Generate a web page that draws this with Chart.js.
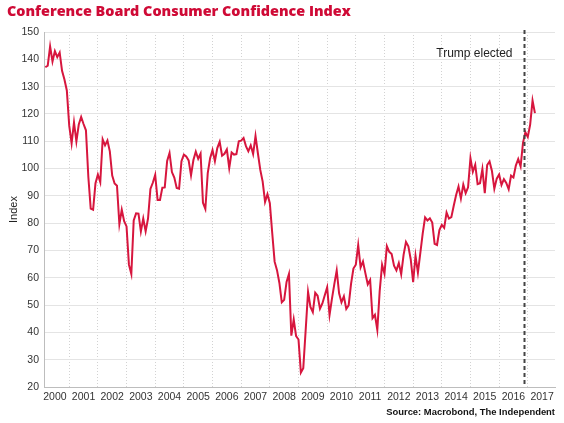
<!DOCTYPE html>
<html><head><meta charset="utf-8">
<script src="https://cdn.jsdelivr.net/npm/chart.js@4/dist/chart.umd.min.js"></script>
<style>html,body{margin:0;padding:0;background:#fff}#wrap{width:564px;height:423px;position:relative}</style>
</head><body><div id="wrap"><canvas id="c"></canvas></div>
<script>
const titleText = "Conference Board Consumer Confidence Index";
const sourceText = "Source: Macrobond, The Independent";
const yAxisTitle = "Index";
const eventLabel = "Trump elected";
const eventDate = 2016.855; // 8 Nov 2016
const yearLabels = [2000,2001,2002,2003,2004,2005,2006,2007,2008,2009,2010,2011,2012,2013,2014,2015,2016,2017];
const yTicks = [20,30,40,50,60,70,80,90,100,110,120,130,140,150];
const firstYear = 2000, firstMonth = 3;

const cci2000 = [137.1,137.7,144.7,139.2,143.0,140.8,142.5,135.8,132.6,128.6];
const cci2001 = [115.7,109.2,116.9,109.9,116.1,118.9,116.3,114.0,97.0,85.3,84.9,94.6];
const cci2002 = [97.8,95.0,110.7,108.5,110.3,106.3,97.4,94.5,93.7,79.6,84.9,80.7];
const cci2003 = [78.8,64.8,61.4,81.0,83.6,83.5,77.0,81.7,77.0,81.7,92.5,94.8];
const cci2004 = [97.7,88.5,88.5,93.0,93.1,102.8,105.7,98.7,96.7,92.9,92.6,102.7];
const cci2005 = [105.1,104.4,103.0,97.5,103.1,106.2,103.6,105.5,87.5,85.2,98.3,103.8];
const cci2006 = [106.8,102.7,107.5,109.8,104.7,105.4,107.0,100.2,105.9,105.1,105.3,110.0];
const cci2007 = [110.2,111.2,108.2,106.3,108.5,105.3,111.9,105.6,99.5,95.2,87.8,90.6];
const cci2008 = [87.3,76.4,65.9,62.8,58.1,51.0,51.9,58.5,61.4,38.8,44.7,38.6];
const cci2009 = [37.4,25.3,26.9,40.8,54.8,49.3,47.4,54.5,53.4,48.7,50.6,53.6];
const cci2010 = [56.5,46.4,52.3,57.7,62.7,54.3,51.0,53.2,48.6,49.9,57.8,63.4];
const cci2011 = [64.8,72.0,63.8,66.0,61.7,57.6,59.2,45.2,46.4,40.9,55.2,64.8];
const cci2012 = [61.5,71.6,69.5,68.7,64.4,62.7,65.4,61.3,68.4,73.1,71.5,66.7];
const cci2013 = [58.4,68.0,61.9,69.0,76.2,82.1,81.0,81.8,80.2,72.4,72.0,77.5];
const cci2014 = [79.4,78.3,83.9,81.7,82.2,86.4,90.3,93.4,89.0,94.1,91.0,93.1];
const cci2015 = [103.8,98.8,101.4,94.3,94.6,99.8,91.0,101.3,102.6,99.1,92.6,96.3];
const cci2016 = [97.8,94.0,96.1,94.7,92.4,97.4,96.7,101.1,103.5,100.8,109.4,113.3];
const cci2017 = [111.6,116.1,124.9,120.3];

const allValues = [].concat(cci2000,cci2001,cci2002,cci2003,cci2004,cci2005,cci2006,cci2007,cci2008,
  cci2009,cci2010,cci2011,cci2012,cci2013,cci2014,cci2015,cci2016,cci2017);
const points = allValues.map((v,i) => ({x: firstYear + (firstMonth - 1 + i) / 12, y: v}));

const overlay = {
  id: 'overlay',
  afterDatasetsDraw(chart) {
    const {ctx, chartArea, scales} = chart;
    const x = Math.round(scales.x.getPixelForValue(eventDate)) + 0.5;
    ctx.save();
    ctx.strokeStyle = '#444';
    ctx.lineWidth = 2;
    ctx.setLineDash([4,3]);
    ctx.beginPath();
    ctx.moveTo(x, chartArea.top - 2);
    ctx.lineTo(x, chartArea.bottom);
    ctx.stroke();
    ctx.setLineDash([]);
    ctx.fillStyle = '#222';
    ctx.font = '12px "Liberation Sans", Arial, sans-serif';
    ctx.textAlign = 'right';
    ctx.textBaseline = 'middle';
    ctx.fillText(eventLabel, x - 12, 54);
    ctx.restore();
  },
  afterDraw(chart) {
    const {ctx} = chart;
    ctx.save();
    let size = 15;
    ctx.font = '800 ' + size + 'px "Open Sans", sans-serif';
    const w = ctx.measureText(titleText).width;
    size = size * 344 / w;
    ctx.font = '800 ' + size.toFixed(2) + 'px "Open Sans", sans-serif';
    ctx.fillStyle = '#cf0a36';
    ctx.textAlign = 'left';
    ctx.textBaseline = 'middle';
    ctx.fillText(titleText, 7, 12);
    let s2 = 10;
    ctx.font = 'bold ' + s2 + 'px "Liberation Sans", Arial, sans-serif';
    const w2 = ctx.measureText(sourceText).width;
    s2 = s2 * 169 / w2;
    ctx.font = 'bold ' + s2.toFixed(2) + 'px "Liberation Sans", Arial, sans-serif';
    ctx.fillStyle = '#111';
    ctx.textAlign = 'right';
    ctx.fillText(sourceText, 555, 412);
    ctx.restore();
  }
};

const tickFont = {family: '"Liberation Sans", Arial, sans-serif', size: 10.5};

new Chart(document.getElementById('c'), {
  type: 'line',
  data: {
    datasets: [{
      data: points,
      borderColor: '#d7163e',
      borderWidth: 2,
      pointRadius: 0,
      tension: 0,
      fill: false
    }]
  },
  options: {
    responsive: true,
    maintainAspectRatio: false,
    animation: false,
    events: [],
    layout: {padding: {top: 32, right: 9, bottom: 0, left: 0}},
    plugins: {legend: {display: false}, tooltip: {enabled: false}, title: {display: false}},
    scales: {
      x: {
        type: 'linear', position: 'bottom', weight: 0,
        min: 2000.12, max: 2017.95,
        afterBuildTicks: (s) => { s.ticks = yearLabels.slice(1).map(v => ({value: v})); },
        afterFit: (s) => { s.height = 0; },
        ticks: {display: false},
        grid: {color: '#d2d2d2', lineWidth: 1, drawTicks: false},
        border: {display: true, color: '#bdbdbd', width: 1, dash: [1,2]}
      },
      x2: {
        type: 'linear', position: 'bottom', weight: 1,
        min: 2000.12, max: 2017.95,
        afterBuildTicks: (s) => { s.ticks = yearLabels.map(v => ({value: v + 0.5})); },
        afterFit: (s) => { s.height = 36; },
        ticks: {autoSkip: false, maxRotation: 0, padding: 4, color: '#333', font: tickFont,
          callback: (v) => String(Math.floor(v))},
        grid: {display: false, drawTicks: false},
        border: {display: false}
      },
      y: {
        type: 'linear', position: 'left',
        min: 20, max: 150,
        afterBuildTicks: (s) => { s.ticks = yTicks.map(v => ({value: v})); },
        afterFit: (s) => { s.width = 44; },
        ticks: {padding: 5, color: '#333', font: tickFont},
        grid: {color: '#e4e4e4', lineWidth: 1, drawTicks: false},
        border: {display: true, color: '#bdbdbd', width: 1},
        title: {display: true, text: yAxisTitle, color: '#222',
          font: {family: '"Liberation Sans", Arial, sans-serif', size: 11},
          padding: {top: 7, bottom: 0}}
      }
    }
  },
  plugins: [overlay]
});
</script></body></html>
